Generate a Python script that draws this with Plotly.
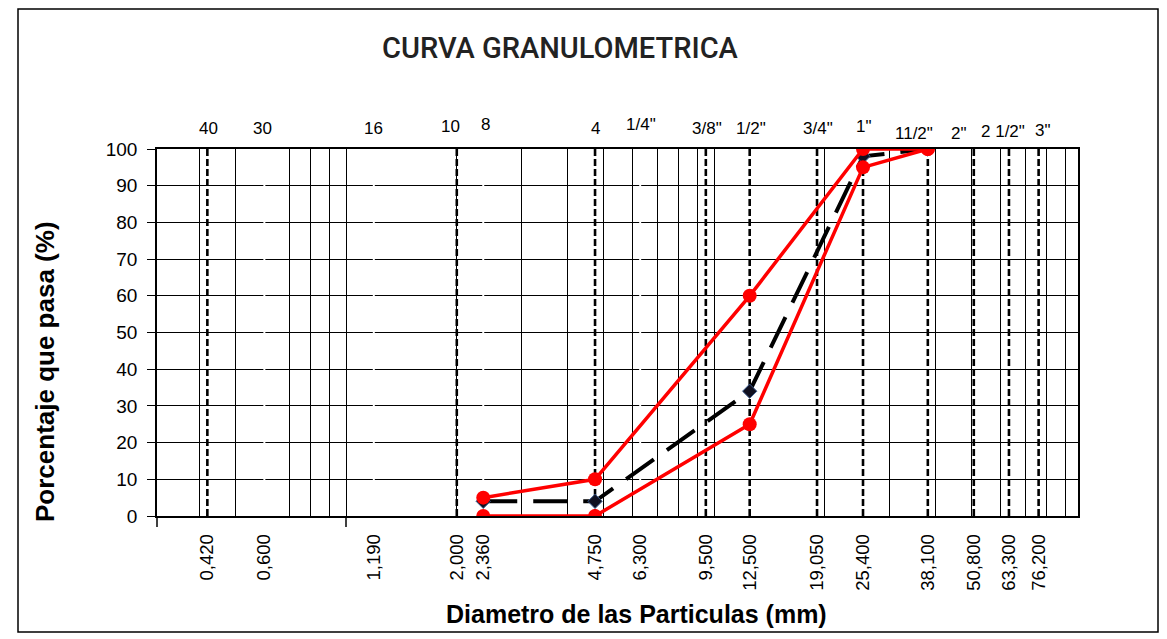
import numpy as np
import plotly.graph_objects as go

# ---------------- DATA ----------------
sieve_sizes = [0.42, 0.60, 1.19, 2.00, 2.36, 4.75, 6.30, 9.50, 12.50, 19.05, 25.40, 38.10, 50.80, 63.30, 76.20]
sieve_ticktext = ["0,420", "0,600", "1,190", "2,000", "2,360", "4,750", "6,300", "9,500",
                  "12,500", "19,050", "25,400", "38,100", "50,800", "63,300", "76,200"]
sieve_names = ["40", "30", "16", "10", "8", "4", "1/4\"", "3/8\"", "1/2\"", "3/4\"",
               "1\"", "11/2\"", "2\"", "2 1/2\"", "3\""]
sieve_visible = [True, False, False, True, False, True, False, True, True, True, True, True, True, True, True]

curve_sizes = [2.36, 4.75, 12.50, 25.40, 38.10]
sample_pass = [4, 4, 34, 98, 100]
upper_limit = [5, 10, 60, 100, 100]
lower_limit = [0, 0, 25, 95, 100]

minor_grid = [0.4, 0.5, 0.6, 0.7, 0.8, 0.9, 1, 2, 3, 4, 5, 6, 7, 8, 9, 10,
              20, 30, 40, 50, 60, 70, 80, 90]
major_marks = [1, 10]

title_text = "CURVA GRANULOMETRICA"
x_title = "Diametro de las Particulas (mm)"
y_title = "Porcentaje que pasa (%)"

# ---------------- STYLE / LAYOUT ----------------
OFF = 8                      # page body margin
W, H = 1167 - OFF, 639 - OFF
# plot area in screen pixels
SL, SR, ST, SB = 157, 1078, 149, 516
L, R, T, B = SL - OFF, SR - OFF, ST - OFF, SB - OFF
PW, PH = R - L, B - T
FONT = "Liberation Sans, Arial, sans-serif"


def px_x(sx):
    return (sx - SL) / PW


def px_y(sy):
    return (SB - sy) / PH


# pixel offsets of the top sieve labels relative to their line, and their vertical centre
label_dx = [1, -2, 0, -6, 2, 0, 1, 1, 1, 1, 1, -14, -15, -6, 4]
label_y = [128, 128, 128, 126, 124, 128, 124, 128, 128, 128, 126, 133, 133, 131, 130]

fig = go.Figure()

# sieve reference lines
for s, vis in zip(sieve_sizes, sieve_visible):
    fig.add_trace(go.Scatter(
        x=[s, s], y=[0, 100], mode="lines", hoverinfo="skip", showlegend=False,
        line=dict(color="black" if vis else "white",
                  width=2.6 if vis else 2,
                  dash="7px,3px" if vis else "solid")))

# sample curve (black dashed with diamonds)
fig.add_trace(go.Scatter(
    x=curve_sizes, y=sample_pass, mode="lines+markers", showlegend=False,
    line=dict(color="black", width=4, dash="34px,16px"),
    marker=dict(symbol="diamond", size=11, color="#101020",
                line=dict(color="#3A5A8C", width=1))))

# limits (red)
for lim in (upper_limit, lower_limit):
    fig.add_trace(go.Scatter(
        x=curve_sizes, y=lim, mode="lines+markers", showlegend=False,
        line=dict(color="#FF0000", width=3.5),
        marker=dict(symbol="circle", size=14, color="#FF0000")))

annotations = []
for s, name, dx, yc in zip(sieve_sizes, sieve_names, label_dx, label_y):
    annotations.append(dict(
        x=np.log10(s), xref="x", y=1, yref="paper", yshift=ST - yc,
        text=name, showarrow=False, xanchor="center", yanchor="middle", xshift=dx,
        font=dict(family=FONT, size=17, color="black")))

annotations.append(dict(
    x=px_x(560), xref="paper", y=1, yref="paper", yshift=ST - 48,
    text=title_text, showarrow=False, xanchor="center", yanchor="middle",
    font=dict(family="Roboto, sans-serif", size=29, color="#222222", weight=500)))
annotations.append(dict(
    x=px_x(636), xref="paper", y=0, yref="paper", yshift=SB - 614,
    text="<b>" + x_title + "</b>", showarrow=False, xanchor="center", yanchor="middle",
    font=dict(family=FONT, size=25, color="black")))
annotations.append(dict(
    x=px_x(45), xref="paper", y=px_y(372), yref="paper",
    text="<b>" + y_title + "</b>", showarrow=False, textangle=-90,
    xanchor="center", yanchor="middle",
    font=dict(family=FONT, size=26, color="black")))

shapes = []
for m in major_marks:
    shapes.append(dict(type="line", xref="x", yref="paper",
                       x0=np.log10(m), x1=np.log10(m), y0=0, y1=-11 / PH,
                       line=dict(color="black", width=1.5)))
shapes.append(dict(type="line", xref="paper", yref="paper", x0=0, x1=0, y0=0, y1=-11 / PH,
                   line=dict(color="black", width=1.5)))
# outer frame
shapes.append(dict(type="rect", xref="paper", yref="paper",
                   x0=px_x(18), x1=px_x(1158),
                   y0=px_y(632), y1=px_y(9),
                   line=dict(color="black", width=1.5)))

fig.update_layout(
    width=W, height=H,
    margin=dict(l=L, r=W - R, t=T, b=H - B, pad=0),
    paper_bgcolor="white", plot_bgcolor="white",
    showlegend=False,
    annotations=annotations, shapes=shapes,
    xaxis=dict(
        type="log", range=[np.log10(0.3065), 1.989],
        tickmode="array", tickvals=sieve_sizes, ticktext=sieve_ticktext,
        tickangle=-90, ticks="outside", ticklen=9, tickcolor="rgba(0,0,0,0)",
        tickfont=dict(family=FONT, size=18.5, color="black"),
        showgrid=False, zeroline=False,
        showline=True, linecolor="black", linewidth=1.5, mirror=True,
        minor=dict(tickmode="array", tickvals=minor_grid, showgrid=True,
                   gridcolor="black", gridwidth=1.3, ticks=""),
    ),
    yaxis=dict(
        range=[0, 100], tickmode="linear", tick0=0, dtick=10,
        ticks="outside", ticklen=8, tickcolor="black", tickwidth=1.3,
        tickfont=dict(family=FONT, size=19, color="black"),
        showgrid=True, gridcolor="black", gridwidth=1.3, zeroline=False,
        showline=True, linecolor="black", linewidth=1.5, mirror=True,
        ticklabelstandoff=6,
    ),
)

fig.write_html("out.html")
